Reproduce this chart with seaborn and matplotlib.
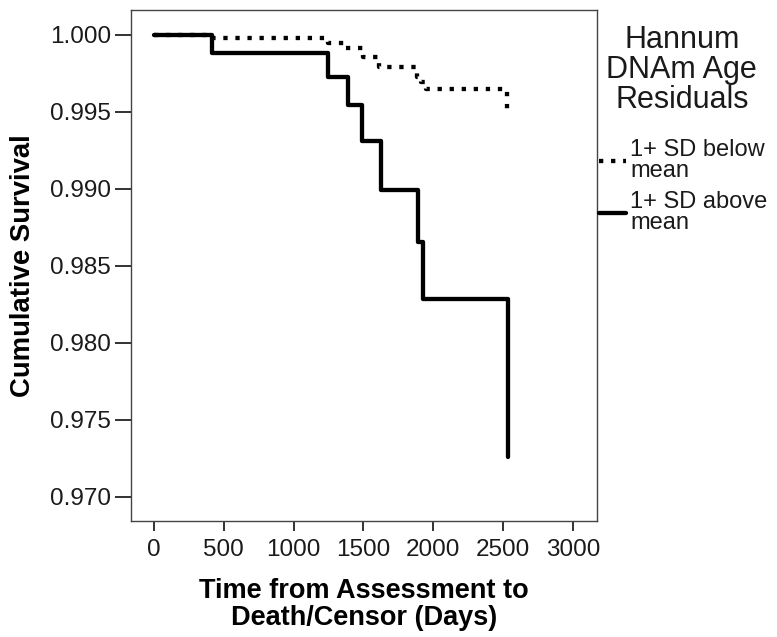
import matplotlib
matplotlib.use("Agg")
import matplotlib.pyplot as plt
import numpy as np
import pandas as pd
import seaborn as sns

# survival steps (days, cumulative survival)
below_days = [0, 400, 1245, 1370, 1500, 1610, 1880, 1910, 1950, 2527]
below_surv = [1.0, 0.99977, 0.99946, 0.99914, 0.99860, 0.99795, 0.99730, 0.99695, 0.99647, 0.99493]

above_days = [0, 413, 1248, 1391, 1487, 1625, 1893, 1924, 2532]
above_surv = [1.0, 0.99881, 0.99725, 0.99543, 0.99314, 0.98994, 0.98658, 0.98286, 0.97262]

groups = ["1+ SD below\nmean", "1+ SD above\nmean"]
legend_title = "Hannum\nDNAm Age\nResiduals"
xticks = [0, 500, 1000, 1500, 2000, 2500, 3000]
yticks = [0.970, 0.975, 0.980, 0.985, 0.990, 0.995, 1.000]

df = pd.concat([
    pd.DataFrame({"days": below_days, "surv": below_surv, "group": groups[0]}),
    pd.DataFrame({"days": above_days, "surv": above_surv, "group": groups[1]}),
])

sns.set_theme(style="ticks")
plt.rcParams["font.family"] = ["Liberation Sans", "DejaVu Sans"]

fig = plt.figure(figsize=(7.77, 6.37), dpi=100)
ax = fig.add_axes([0.1686, 0.1821, 0.5997, 0.8022])

sns.lineplot(data=df, x="days", y="surv", hue="group", style="group",
             hue_order=groups, style_order=groups,
             palette=["black", "black"], dashes={groups[0]: (1, 1.8), groups[1]: ""},
             drawstyle="steps-post", estimator=None, sort=False,
             linewidth=3.1, ax=ax)

ax.set_xlim(-165, 3172)
ax.set_ylim(0.96844, 1.00162)
ax.set_xticks(xticks)
ax.set_yticks(yticks)
ax.set_yticklabels(["%.3f" % v for v in yticks])

for s in ax.spines.values():
    s.set_visible(True)
    s.set_color("#444444")
    s.set_linewidth(1.0)

ax.tick_params(axis="y", length=11.5, width=1.3, color="#222222", pad=3, labelsize=17.5, labelcolor="#1a1a1a")
ax.tick_params(axis="x", length=7.5, width=1.3, color="#222222", pad=5.5, labelsize=17.5, labelcolor="#1a1a1a")

ax.set_xlabel("Time from Assessment to\nDeath/Censor (Days)", fontsize=19.5, fontweight="bold",
              labelpad=12, color="black", linespacing=1.05)
ax.set_ylabel("Cumulative Survival", fontsize=19.8, fontweight="bold", labelpad=10, color="black")

# legend: title set as its own text so the gap to the entries can match
ax.text(1.182, 0.8826, legend_title, transform=ax.transAxes, ha="center", va="center",
        fontsize=22, linespacing=1.0, color="#1a1a1a", multialignment="center")

handles, labels = ax.get_legend_handles_labels()
leg = ax.legend(handles, labels, loc="upper left", bbox_to_anchor=(1.0, 0.752), frameon=False,
                fontsize=17, handlelength=1.15, handletextpad=0.15,
                borderaxespad=0.0, borderpad=0.1, labelspacing=0.38)
for t in leg.get_texts():
    t.set_linespacing(0.95)
    t.set_color("#1a1a1a")

fig.savefig("out.png", dpi=100)
